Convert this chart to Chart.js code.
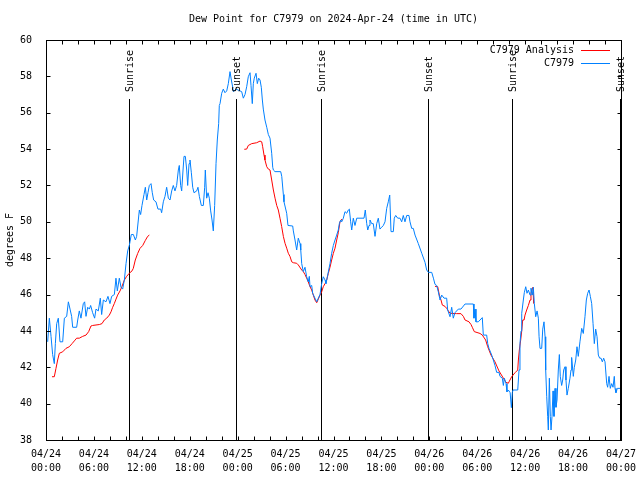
<!DOCTYPE html>
<html>
<head>
<meta charset="utf-8">
<title>Dew Point for C7979</title>
<script src="https://cdn.jsdelivr.net/npm/chart.js@4"></script>
<style>
  html, body { margin: 0; padding: 0; background: #fff; }
  #wrap { width: 640px; height: 480px; position: relative; }
</style>
</head>
<body>
<div id="wrap"><canvas id="myChart"></canvas></div>
<script>
// hours since 2024-04-24 00:00 UTC
const obsHours = [
  0.21, 0.42, 0.63, 0.83, 1.04, 1.17, 1.34, 1.54, 1.75, 2.09, 2.30, 2.59, 2.80, 3.01, 3.21, 3.34,
  3.84, 3.97, 4.17, 4.38, 4.67, 4.84, 5.01, 5.22, 5.43, 5.59, 5.84, 6.09, 6.26, 6.55, 6.80, 6.97,
  7.18, 7.51, 7.76, 8.01, 8.22, 8.56, 8.76, 8.93, 9.18, 9.39, 9.60, 9.81, 10.02, 10.23, 10.43, 10.52,
  10.68, 10.94, 11.19, 11.35, 11.56, 11.69, 11.85, 12.02, 12.27, 12.44, 12.61, 12.77, 12.94, 13.15, 13.31, 13.48,
  13.77, 14.02, 14.36, 14.48, 14.69, 14.90, 15.11, 15.32, 15.53, 15.74, 15.94, 16.15, 16.36, 16.57, 16.69, 16.86,
  16.99, 17.16, 17.28, 17.45, 17.62, 17.74, 17.91, 18.03, 18.20, 18.37, 18.53, 18.87, 19.03, 19.20, 19.45, 19.70,
  19.87, 19.95, 20.12, 20.29, 20.45, 20.62, 20.79, 20.95, 21.12, 21.29, 21.45, 21.62, 21.70, 21.79, 22.00, 22.20,
  22.41, 22.63, 22.83, 23.04, 23.21, 23.38, 23.46, 23.79, 24.50, 24.71, 24.92, 25.13, 25.33, 25.55, 25.67, 25.83,
  25.96, 26.08, 26.30, 26.46, 26.63, 26.80, 26.96, 27.09, 27.21, 27.42, 27.64, 27.84, 28.05, 28.26, 28.39, 28.47,
  28.68, 29.39, 29.52, 29.72, 29.80, 30.14, 30.30, 30.89, 30.97, 31.18, 31.39, 31.59, 31.81, 31.90, 32.02, 32.22,
  32.43, 32.64, 32.84, 32.97, 33.06, 33.27, 33.39, 33.68, 33.90, 34.10, 34.31, 34.52, 34.72, 34.94, 35.06, 35.23,
  35.56, 35.77, 35.98, 36.19, 36.40, 36.60, 36.73, 36.90, 37.03, 37.23, 37.44, 37.65, 37.86, 37.98, 38.15, 38.28,
  38.48, 38.69, 38.91, 39.32, 39.82, 39.98, 40.16, 40.29, 40.45, 40.57, 40.78, 40.98, 41.20, 41.41, 41.61, 41.82,
  42.03, 42.24, 42.45, 42.66, 42.86, 43.04, 43.20, 43.49, 43.61, 43.79, 44.04, 44.33, 44.54, 44.74, 44.95, 45.17,
  45.45, 45.58, 45.79, 45.99, 46.21, 46.62, 47.05, 47.46, 47.67, 47.88, 48.30, 48.51, 48.71, 48.92, 49.12, 49.34,
  49.55, 49.84, 50.17, 50.30, 50.59, 50.80, 51.00, 51.21, 51.63, 51.96, 52.47, 53.22, 53.51, 53.59, 53.72, 53.84,
  54.13, 54.35, 54.63, 54.76, 55.18, 55.31, 55.47, 55.81, 56.01, 56.22, 56.43, 56.72, 56.85, 57.14, 57.27, 57.39,
  57.60, 57.72, 57.89, 58.12, 58.27, 58.39, 58.48, 59.07, 59.23, 59.35, 59.48, 59.57, 59.77, 59.89, 60.07, 60.23,
  60.40, 60.61, 60.73, 60.89, 61.02, 61.15, 61.32, 61.49, 61.65, 61.74, 61.86, 62.07, 62.20, 62.36, 62.49, 62.57,
  62.70, 62.82, 62.90, 63.03, 63.15, 63.24, 63.36, 63.49, 63.61, 63.74, 63.86, 63.99, 64.15, 64.28, 64.40, 64.57,
  64.70, 64.82, 64.99, 65.11, 65.24, 65.40, 65.61, 65.74, 65.82, 66.03, 66.15, 66.33, 66.49, 66.65, 66.86, 67.08,
  67.28, 67.49, 67.66, 67.83, 68.00, 68.16, 68.33, 68.50, 68.66, 68.83, 69.00, 69.16, 69.33, 69.50, 69.66, 69.83,
  70.00, 70.21, 70.33, 70.50, 70.66, 70.83, 71.00, 71.16, 71.25, 71.37, 71.54, 71.87
];
const obsDewF = [
  43.4, 44.7, 43.7, 42.7, 42.2, 43.3, 44.4, 44.7, 43.4, 43.4, 44.7, 44.8, 45.6, 45.2, 44.8, 44.2,
  44.2, 44.6, 45.1, 44.7, 45.5, 45.6, 44.8, 45.3, 45.2, 45.4, 45.0, 44.7, 45.2, 45.1, 45.8, 44.9,
  45.7, 45.6, 45.9, 45.5, 45.9, 46.0, 46.9, 46.2, 46.9, 46.4, 46.3, 46.8, 47.7, 48.4, 48.7, 48.9,
  49.3, 49.3, 49.0, 49.2, 50.1, 50.65, 50.4, 50.9, 51.5, 51.9, 51.2, 51.6, 52.0, 52.1, 51.6, 51.2,
  51.1, 50.7, 50.7, 50.5, 51.1, 51.4, 51.9, 51.3, 51.2, 51.7, 52.0, 51.7, 52.0, 52.85, 53.1, 52.0,
  51.7, 52.85, 53.6, 53.6, 52.85, 52.0, 53.2, 53.4, 52.7, 51.9, 51.6, 51.7, 51.9, 51.4, 50.9, 50.9,
  51.9, 52.85, 51.3, 51.6, 51.3, 50.6, 50.1, 49.5, 50.9, 53.2, 54.5, 55.4, 56.4, 56.5, 57.07, 57.3,
  57.1, 57.2, 57.6, 58.26, 57.8, 57.4, 57.16, 57.3, 57.16, 56.8, 57.0, 57.43, 57.98, 58.2, 57.5, 56.5,
  57.6, 57.9, 58.17, 57.6, 57.9, 57.8, 57.4, 56.7, 56.2, 55.6, 55.2, 54.8, 54.6, 53.77, 53.0, 52.85,
  52.76, 52.76, 52.5, 51.5, 51.1, 50.47, 49.8, 49.77, 49.5, 49.0, 48.45, 49.1, 48.8, 48.45, 47.7, 47.26,
  47.5, 46.98, 46.7, 47.0, 46.43, 46.5, 46.07, 45.8, 45.6, 45.8, 46.0, 46.6, 46.98, 46.8, 46.6, 46.98,
  47.7, 48.27, 48.7, 49.0, 49.27, 49.55, 49.9, 50.1, 50.0, 50.2, 50.56, 50.47, 50.65, 50.7, 50.0, 49.55,
  50.2, 49.8, 50.2, 50.2, 50.2, 50.65, 49.9, 49.55, 49.8, 50.1, 49.9, 49.9, 49.2, 49.9, 50.2, 49.6,
  49.7, 49.8, 50.0, 50.74, 51.1, 51.47, 49.46, 49.46, 50.2, 50.35, 50.2, 50.2, 50.0, 50.35, 50.0, 50.35,
  50.35, 50.0, 49.64, 49.64, 49.27, 48.8, 48.27, 47.77, 47.35, 47.22, 47.22, 46.9, 46.56, 46.5, 46.16, 45.7,
  45.97, 45.8, 45.8, 45.15, 44.78, 45.3, 44.7, 45.0, 45.2, 45.2, 45.48, 45.48, 45.48, 44.7, 45.2, 44.5,
  44.5, 44.6, 44.73, 43.77, 43.77, 43.3, 43.04, 42.67, 42.4, 42.1, 41.72, 41.72, 41.5, 41.4, 41.0, 41.4,
  41.1, 40.65, 40.75, 40.6, 39.78, 40.6, 40.75, 40.75, 41.85, 43.3, 43.99, 44.97, 45.7, 46.1, 46.43, 46.07,
  46.25, 45.97, 46.35, 45.97, 46.4, 45.5, 44.78, 45.1, 44.7, 43.68, 43.04, 43.04, 44.1, 44.5, 43.68, 41.85,
  40.38, 39.28, 38.55, 41.4, 39.3, 38.55, 39.3, 40.7, 39.3, 40.84, 39.8, 40.2, 41.85, 42.7, 41.48, 41.0,
  41.3, 41.85, 42.03, 41.3, 40.47, 40.84, 41.4, 41.85, 42.54, 41.5, 42.0, 42.4, 43.13, 42.6, 43.4, 44.14,
  43.86, 44.78, 45.7, 46.07, 46.25, 45.9, 45.5, 44.4, 43.3, 44.1, 43.68, 42.67, 42.5, 42.5, 42.3, 42.5,
  42.3, 41.1, 40.9, 41.5, 40.84, 41.1, 40.9, 41.5, 40.84, 40.6, 40.84, 40.84
];

// analysis series, null marks a gap
const anaHours = [
  0.75, 1.04, 1.25, 1.46, 1.67, 2.09, 2.50, 2.92, 3.26, 3.55, 3.84, 4.17, 4.59, 5.01, 5.34, 5.63,
  5.84, 6.68, 7.01, 7.30, 7.60, 7.93, 8.14, 8.35, 8.55, 8.77, 8.97, 9.27, 9.52, 9.81, 10.10, 10.43,
  10.77, 10.93, 11.18, 11.48, 11.77, 12.11, 12.44, 12.73, 12.94,
  18.0,
  24.83, 25.13, 25.33, 25.76, 26.38, 26.80, 27.01, 27.13, 27.30, 27.42, 27.64, 27.84, 28.05, 28.26, 28.47, 28.68,
  28.89, 29.09, 29.30, 29.51, 29.72, 29.93, 30.14, 30.34, 30.55, 30.77, 30.97, 31.39, 31.59, 32.02, 32.22, 32.43,
  32.64, 32.84, 33.06, 33.27, 33.47, 33.68, 33.90, 34.10, 34.31, 34.52, 34.72, 34.94, 35.15, 35.35, 35.56, 35.77,
  35.98, 36.19, 36.40, 36.60, 36.81, 37.03,
  42.0,
  48.71, 49.05, 49.25, 49.46, 49.63, 49.96, 50.17, 50.38, 50.59, 51.42, 51.96, 52.26, 52.47, 52.97, 53.22, 53.38,
  53.63, 54.35, 54.63, 55.05, 55.31, 55.72, 56.22, 56.72, 57.27, 57.60, 57.89, 57.98, 58.31, 58.73, 59.07, 59.15,
  59.27, 59.44, 59.57, 59.69, 59.86, 59.98, 60.19, 60.40, 60.61, 60.73, 60.89, 60.98, 61.06
];
const anaDewF = [
  41.48, 41.48, 41.94, 42.4, 42.77, 42.85, 43.04, 43.13, 43.3, 43.45, 43.6, 43.6, 43.7, 43.77, 43.96, 44.27,
  44.3, 44.35, 44.4, 44.6, 44.7, 44.87, 45.05, 45.3, 45.5, 45.75, 45.97, 46.2, 46.45, 46.8, 47.0, 47.17,
  47.3, 47.44, 47.9, 48.26, 48.54, 48.7, 48.98, 49.2, 49.27,
  null,
  53.99, 54.0, 54.2, 54.3, 54.35, 54.44, 54.4, 54.13, 53.67, 53.4, 53.03, 52.9, 52.85, 52.3, 51.75, 51.3,
  50.9, 50.65, 50.2, 49.74, 49.2, 48.82, 48.55, 48.27, 48.1, 47.8, 47.75, 47.72, 47.63, 47.35, 47.26, 47.1,
  46.9, 46.7, 46.43, 46.25, 45.97, 45.7, 45.55, 45.75, 45.97, 46.15, 46.43, 46.6, 46.8, 47.16, 47.5, 47.9,
  48.27, 48.55, 49.0, 49.4, 50.0, 50.15,
  null,
  46.45, 46.43, 45.97, 45.7, 45.42, 45.35, 45.24, 45.1, 44.97, 44.95, 44.95, 44.8, 44.6, 44.5, 44.35, 44.2,
  43.96, 43.86, 43.77, 43.5, 43.13, 42.67, 42.3, 41.8, 41.4, 41.17, 41.12, 41.2, 41.48, 41.7, 41.85, 42.4,
  42.95, 43.5, 44.0, 44.6, 44.6, 44.87, 45.15, 45.4, 45.7, 46.07, 46.35, 46.4, 45.5
];

const sunHours = [10.4, 23.8, 34.45, 47.8, 58.4, 71.9];
const sunLabels = ["Sunrise", "Sunset", "Sunrise", "Sunset", "Sunrise", "Sunset"];

const yTicks = [38, 40, 42, 44, 46, 48, 50, 52, 54, 56, 58, 60];
const xDays = ["04/24", "04/25", "04/26", "04/27"];

const FONT = "DejaVu Sans Mono";
const titleText = "Dew Point for C7979 on 2024-Apr-24 (time in UTC)";

function pts(xs, ys) {
  return xs.map((h, i) => ({ x: h, y: ys[i] }));
}

function hourLabel(v) {
  const d = xDays[Math.floor(v / 24)];
  const h = v % 24;
  return [d, (h < 10 ? "0" : "") + h + ":00"];
}

const frame = {
  id: "frame",
  beforeDatasetsDraw(chart) {
    const ctx = chart.ctx;
    const a = chart.chartArea;
    const x = chart.scales.x;
    ctx.save();
    ctx.strokeStyle = "#000";
    ctx.lineWidth = 1;
    sunHours.forEach((h) => {
      const px = Math.round(x.getPixelForValue(h)) + 0.5;
      ctx.beginPath();
      ctx.moveTo(px, 99);
      ctx.lineTo(px, a.bottom);
      ctx.stroke();
    });
    ctx.restore();
  },
  afterDraw(chart) {
    const ctx = chart.ctx;
    const a = chart.chartArea;
    const x = chart.scales.x;
    const y = chart.scales.y;
    const L = Math.round(a.left) + 0.5, R = Math.round(a.right) + 0.5;
    const T = Math.round(a.top) + 0.5, B = Math.round(a.bottom) + 0.5;
    ctx.save();
    ctx.strokeStyle = "#000";
    ctx.lineWidth = 1;
    ctx.strokeRect(L, T, R - L, B - T);

    // inward ticks
    ctx.beginPath();
    for (let h = 0; h <= 72; h += 2) {
      const px = Math.round(x.getPixelForValue(h)) + 0.5;
      ctx.moveTo(px, B); ctx.lineTo(px, B - 4);
      ctx.moveTo(px, T); ctx.lineTo(px, T + 4);
    }
    yTicks.forEach((v) => {
      const py = Math.round(y.getPixelForValue(v)) + 0.5;
      ctx.moveTo(L, py); ctx.lineTo(L + 4, py);
      ctx.moveTo(R, py); ctx.lineTo(R - 4, py);
    });
    ctx.stroke();

    ctx.fillStyle = "#000";
    ctx.font = "10px '" + FONT + "'";

    // sunrise / sunset labels
    sunHours.forEach((h, i) => {
      const px = Math.round(x.getPixelForValue(h)) + 1;
      ctx.save();
      ctx.translate(px, 92);
      ctx.rotate(-Math.PI / 2);
      ctx.textAlign = "left";
      ctx.textBaseline = "middle";
      ctx.fillText(sunLabels[i], 0, 0);
      ctx.restore();
    });

    // title
    ctx.textAlign = "center";
    ctx.textBaseline = "middle";
    ctx.fillText(titleText, (a.left + a.right) / 2, 19);

    // legend
    ctx.textAlign = "right";
    chart.data.datasets.slice().reverse().forEach((ds, i) => {
      const ly = 50 + i * 13;
      ctx.fillStyle = "#000";
      ctx.fillText(ds.label, 574, ly);
      ctx.strokeStyle = ds.borderColor;
      ctx.beginPath();
      ctx.moveTo(581, ly + 0.5);
      ctx.lineTo(610, ly + 0.5);
      ctx.stroke();
    });
    ctx.restore();
  }
};

const config = {
  type: "line",
  data: {
    datasets: [
      {
        label: "C7979",
        data: pts(obsHours, obsDewF),
        borderColor: "#0080ff",
        borderWidth: 1,
        pointRadius: 0,
        tension: 0,
        order: 0
      },
      {
        label: "C7979 Analysis",
        data: pts(anaHours, anaDewF),
        borderColor: "#ff0000",
        borderWidth: 1,
        pointRadius: 0,
        tension: 0,
        spanGaps: false,
        order: 1
      }
    ]
  },
  options: {
    responsive: true,
    maintainAspectRatio: false,
    animation: false,
    events: [],
    layout: { padding: { top: 40, right: 19, left: 0, bottom: 0 } },
    plugins: {
      legend: { display: false },
      title: { display: false },
      tooltip: { enabled: false }
    },
    scales: {
      x: {
        type: "linear",
        min: 0,
        max: 72,
        grid: { display: false },
        border: { display: false },
        afterFit(s) {
          s.height = 40;
          s.paddingLeft = 0;
          s.paddingRight = 0;
        },
        ticks: {
          stepSize: 6,
          autoSkip: false,
          maxRotation: 0,
          padding: -1,
          color: "#000",
          font: { family: FONT, size: 10, lineHeight: 1.4 },
          callback: (v) => hourLabel(v)
        }
      },
      y: {
        min: 38,
        max: 60,
        grid: { display: false },
        border: { display: false },
        afterFit(s) {
          s.width = 46;
          s.paddingTop = 0;
          s.paddingBottom = 0;
        },
        title: {
          display: true,
          text: "degrees F",
          color: "#000",
          padding: 4,
          font: { family: FONT, size: 10 }
        },
        ticks: {
          stepSize: 2,
          padding: 6,
          color: "#000",
          font: { family: FONT, size: 10 }
        }
      }
    }
  },
  plugins: [frame]
};

let myChart = new Chart(document.getElementById("myChart"), config);
</script>
</body>
</html>
